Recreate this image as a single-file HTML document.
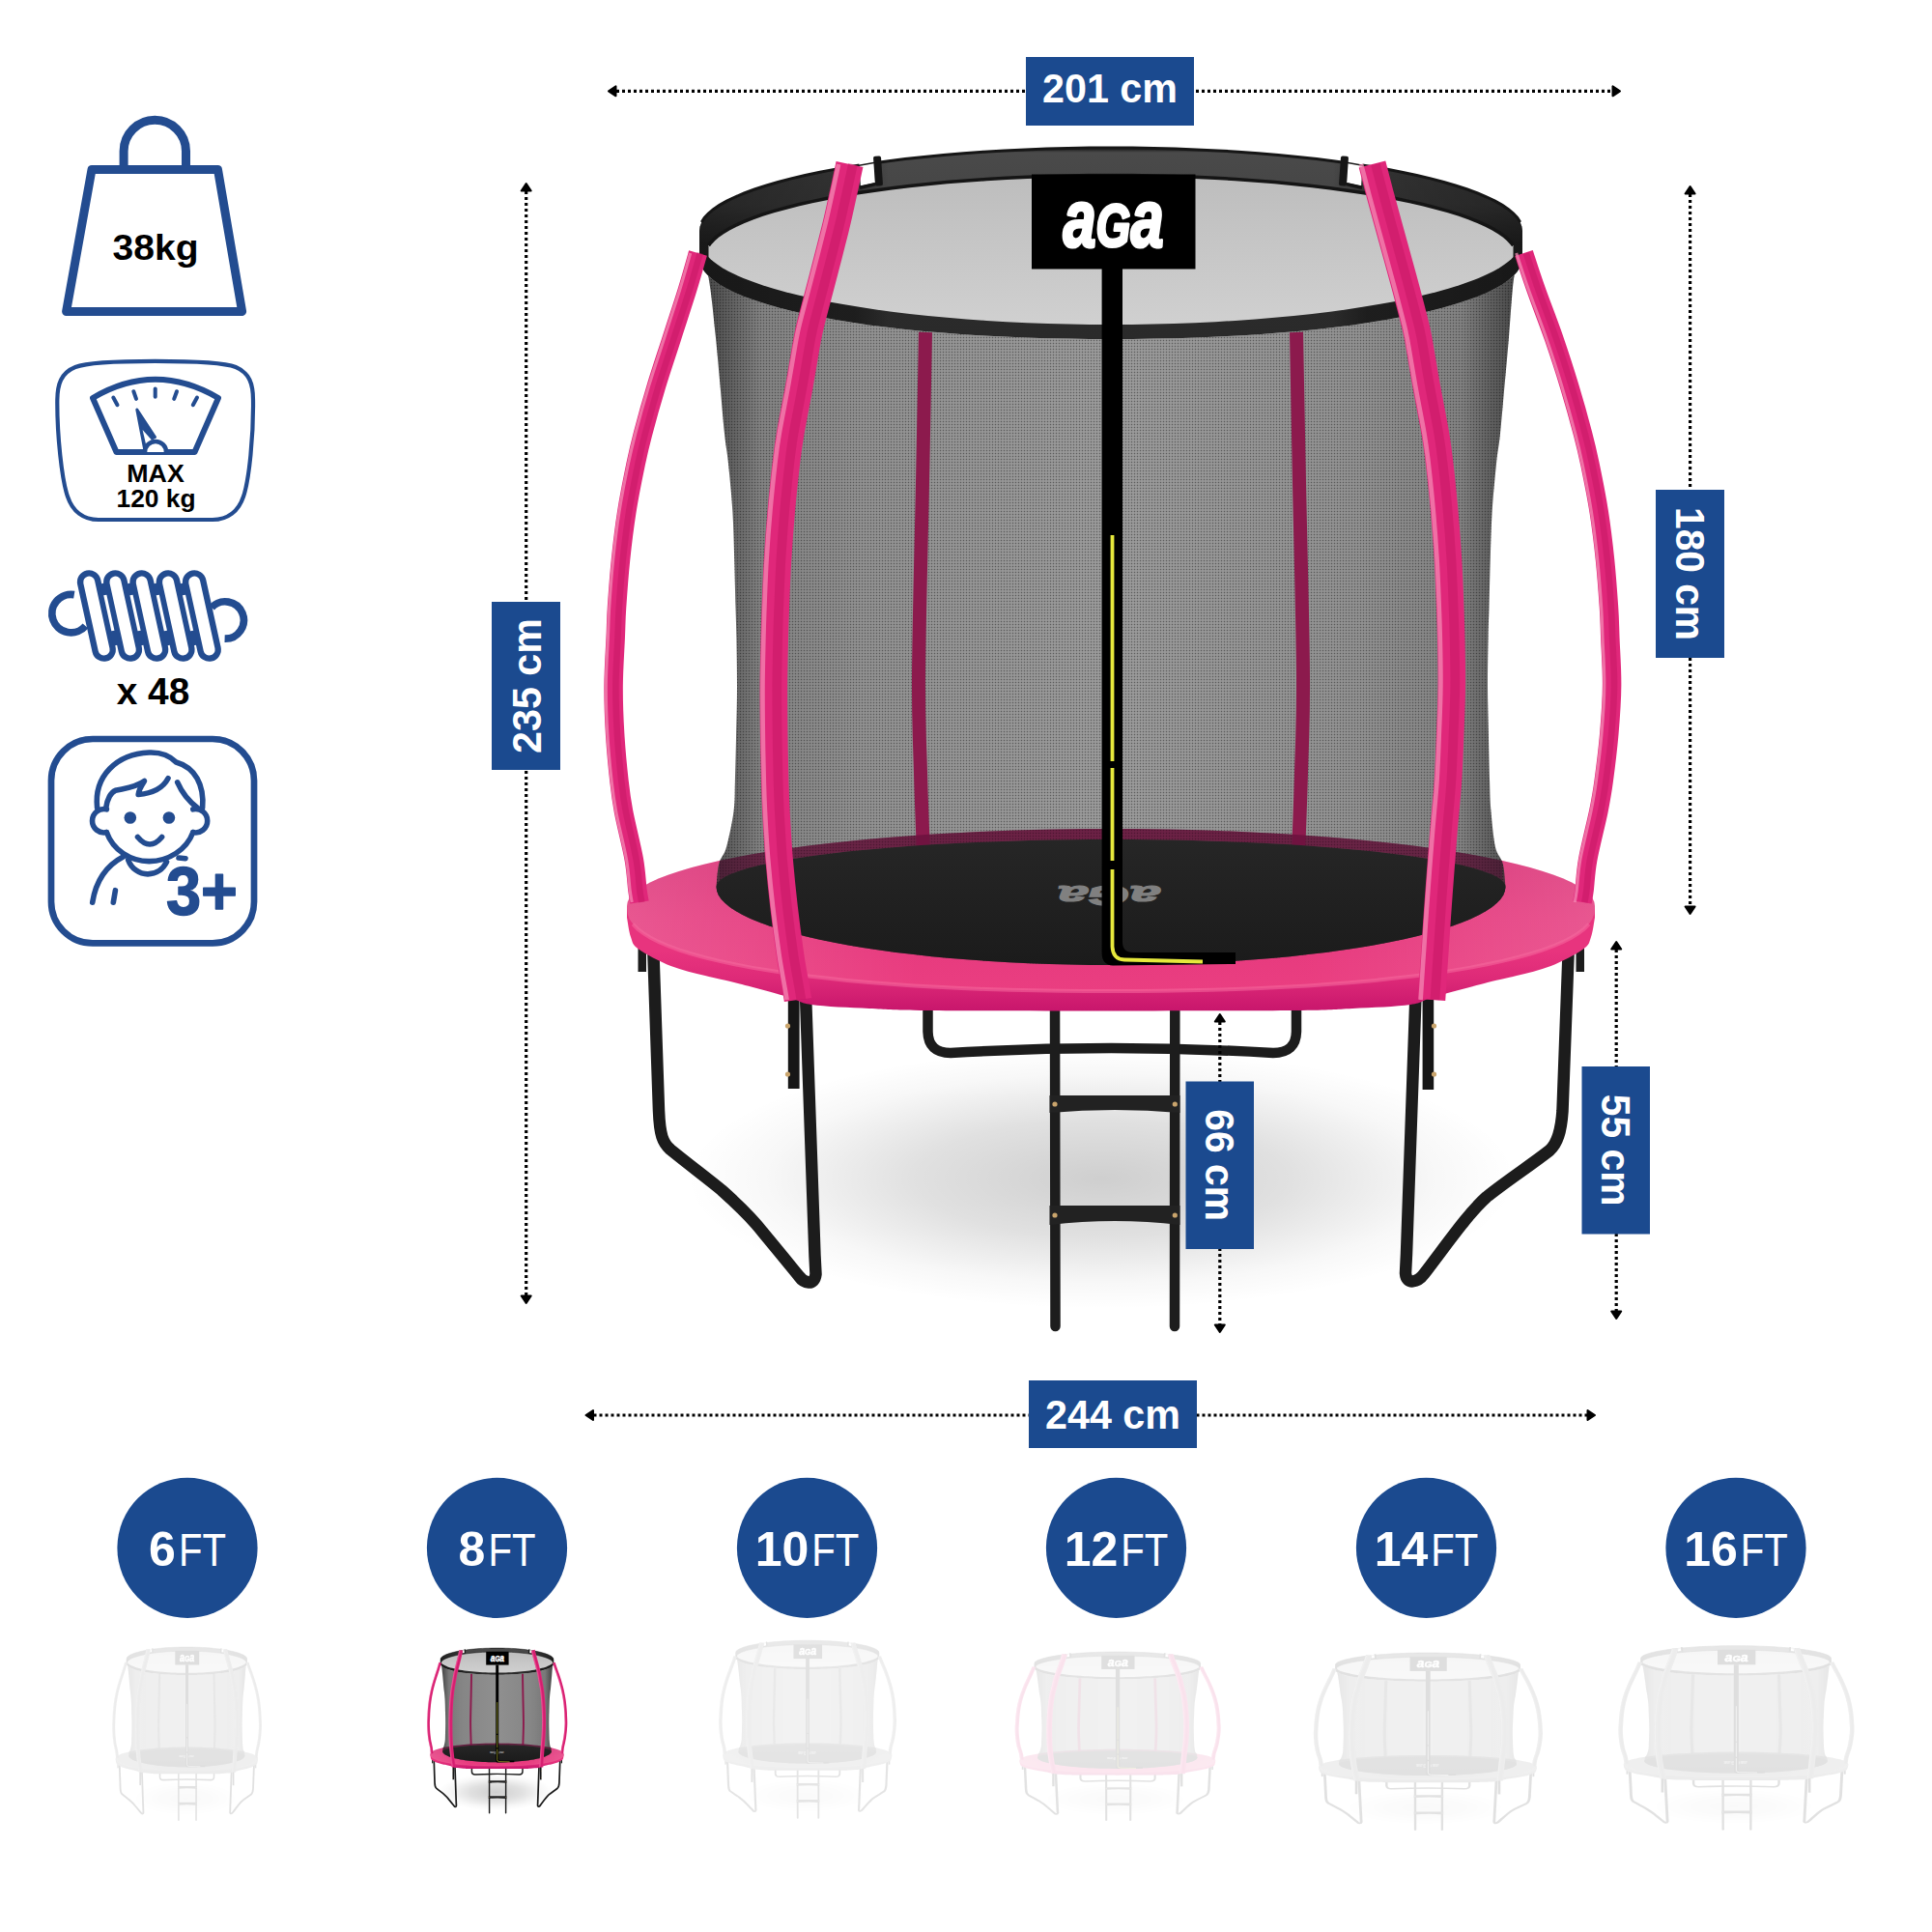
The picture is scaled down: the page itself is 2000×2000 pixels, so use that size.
<!DOCTYPE html>
<html lang="en"><head><meta charset="utf-8"><title>Trampoline 8FT dimensions</title>
<style>
html,body{margin:0;padding:0;background:#fff;}
body{width:2000px;height:2000px;overflow:hidden;}
svg{display:block;font-family:"Liberation Sans", sans-serif;}
</style></head><body>
<svg width="2000" height="2000" viewBox="0 0 2000 2000">
<defs>
<radialGradient id="gShadow" cx="0.5" cy="0.5" r="0.5"><stop offset="0" stop-color="#000" stop-opacity="0.19"/><stop offset="0.45" stop-color="#000" stop-opacity="0.12"/><stop offset="0.8" stop-color="#000" stop-opacity="0.03"/><stop offset="1" stop-color="#000" stop-opacity="0"/></radialGradient>
<linearGradient id="gNet" gradientUnits="userSpaceOnUse" x1="724" y1="0" x2="1576" y2="0"><stop offset="0" stop-color="#2b2b2b" stop-opacity="0.9"/><stop offset="0.045" stop-color="#333" stop-opacity="0.74"/><stop offset="0.075" stop-color="#383838" stop-opacity="0.62"/><stop offset="0.2" stop-color="#3a3a3a" stop-opacity="0.55"/><stop offset="0.5" stop-color="#3a3a3a" stop-opacity="0.5"/><stop offset="0.8" stop-color="#3a3a3a" stop-opacity="0.55"/><stop offset="0.925" stop-color="#383838" stop-opacity="0.62"/><stop offset="0.955" stop-color="#333" stop-opacity="0.74"/><stop offset="1" stop-color="#2b2b2b" stop-opacity="0.9"/></linearGradient>
<linearGradient id="gOpen" x1="0" y1="0" x2="0" y2="1"><stop offset="0" stop-color="#bdbdbd"/><stop offset="1" stop-color="#d0d0d0"/></linearGradient>
<linearGradient id="gRing" gradientUnits="userSpaceOnUse" x1="0" y1="153" x2="0" y2="351"><stop offset="0" stop-color="#141414"/><stop offset="0.025" stop-color="#4a4a4a"/><stop offset="0.30" stop-color="#444"/><stop offset="0.5" stop-color="#2c2c2c"/><stop offset="1" stop-color="#2a2a2a"/></linearGradient>
<linearGradient id="gPadLight" gradientUnits="userSpaceOnUse" x1="649" y1="0" x2="1651" y2="0"><stop offset="0" stop-color="#fff" stop-opacity="0.17"/><stop offset="0.3" stop-color="#fff" stop-opacity="0.02"/><stop offset="0.7" stop-color="#fff" stop-opacity="0.02"/><stop offset="1" stop-color="#fff" stop-opacity="0.17"/></linearGradient>
<linearGradient id="gRingSide" gradientUnits="userSpaceOnUse" x1="724" y1="0" x2="1576" y2="0"><stop offset="0" stop-color="#000" stop-opacity="0.45"/><stop offset="0.19" stop-color="#000" stop-opacity="0.3"/><stop offset="0.23" stop-color="#000" stop-opacity="0"/><stop offset="0.77" stop-color="#000" stop-opacity="0"/><stop offset="0.81" stop-color="#000" stop-opacity="0.3"/><stop offset="1" stop-color="#000" stop-opacity="0.45"/></linearGradient>
<linearGradient id="gMat" x1="0" y1="0" x2="0" y2="1"><stop offset="0" stop-color="#262626"/><stop offset="1" stop-color="#1b1b1b"/></linearGradient>
<linearGradient id="gPadTop" gradientUnits="userSpaceOnUse" x1="0" y1="858" x2="0" y2="1026"><stop offset="0" stop-color="#d42a70"/><stop offset="0.55" stop-color="#e4347a"/><stop offset="1" stop-color="#ea3a7e"/></linearGradient>
<linearGradient id="gPadSide" gradientUnits="userSpaceOnUse" x1="0" y1="985" x2="0" y2="1046"><stop offset="0" stop-color="#e8347e"/><stop offset="0.45" stop-color="#de2a78"/><stop offset="1" stop-color="#c8166c"/></linearGradient>
<pattern id="pMesh" width="3" height="3" patternUnits="userSpaceOnUse"><rect x="0.8" y="0.8" width="1.4" height="1.4" fill="#000" fill-opacity="0.4"/></pattern>
<g id="tramp">
<ellipse cx="1140" cy="1220" rx="430" ry="135" fill="url(#gShadow)"/>
<path d="M960.5,1030 L960.5,1068 Q961,1090 984,1090 Q1150,1080 1318,1090 Q1341.5,1090 1342,1068 L1342,1030" fill="none" stroke="#1c1c1c" stroke-width="10.5"/>
<g stroke="#1d1d1d" stroke-width="10.5" stroke-linecap="round"><path d="M1092,1035 L1092.5,1373"/><path d="M1216.3,1035 L1216,1373"/></g>
<path d="M1086.5,1134 L1221.5,1134 L1221.5,1152 Q1154,1146 1086.5,1152 Z" fill="#222"/><path d="M1086.5,1248 L1221.5,1248 L1221.5,1268 Q1154,1260 1086.5,1268 Z" fill="#222"/>
<path d="M676,975 L682,1150 C683,1175 686,1183 694,1190 C715,1207 735,1222 747,1232 C765,1248 780,1263 790,1276 C805,1294 818,1310 827,1321 C832,1328 843,1332 844.5,1319 L843.5,1300 L834,1030" fill="none" stroke="#1c1c1c" stroke-width="12.5" stroke-linejoin="round"/>
<path d="M1624,975 L1617.5,1150 C1616,1172 1612,1184 1604,1191 C1585,1206 1560,1222 1539,1239 C1520,1256 1500,1285 1474,1319 C1468,1327 1456,1331 1455,1318 L1456,1298 L1465.5,1030" fill="none" stroke="#1c1c1c" stroke-width="12.5" stroke-linejoin="round"/>
<rect x="660.5" y="968" width="8.5" height="38" fill="#1c1c1c"/><rect x="1631.5" y="968" width="8.5" height="38" fill="#1c1c1c"/>
<rect x="815.8" y="1015" width="11.8" height="112" fill="#161616"/><rect x="1472.6" y="1015" width="11.6" height="113" fill="#161616"/>
<circle cx="1092" cy="1143" r="2.6" fill="#c9a46c"/><circle cx="1216.3" cy="1143" r="2.6" fill="#c9a46c"/><circle cx="1092" cy="1258" r="2.6" fill="#c9a46c"/><circle cx="1216.3" cy="1258" r="2.6" fill="#c9a46c"/><circle cx="815.5" cy="1062" r="2.6" fill="#c9a46c"/><circle cx="815.5" cy="1112" r="2.6" fill="#c9a46c"/><circle cx="1484.5" cy="1062" r="2.6" fill="#c9a46c"/><circle cx="1484.5" cy="1112" r="2.6" fill="#c9a46c"/>
<path d="M649.0,950.0 C649.7,953.3 651.0,964.6 653.0,970.0 C655.0,975.4 654.1,977.5 661.0,982.5 C667.9,987.5 683.0,995.4 694.5,1000.0 C706.0,1004.6 719.1,1007.2 730.0,1010.0 C740.9,1012.8 745.7,1013.3 760.0,1017.0 C774.3,1020.7 802.7,1028.2 816.0,1032.0 C829.3,1035.8 826.0,1038.0 840.0,1040.0 C854.0,1042.0 880.0,1043.0 900.0,1044.0 C920.0,1045.0 918.3,1045.6 960.0,1046.0 C1001.7,1046.4 1086.7,1046.5 1150.0,1046.5 C1213.3,1046.5 1298.3,1046.4 1340.0,1046.0 C1381.7,1045.6 1380.0,1045.0 1400.0,1044.0 C1420.0,1043.0 1446.0,1042.0 1460.0,1040.0 C1474.0,1038.0 1470.7,1035.8 1484.0,1032.0 C1497.3,1028.2 1525.7,1020.7 1540.0,1017.0 C1554.3,1013.3 1559.1,1012.8 1570.0,1010.0 C1580.9,1007.2 1594.0,1004.6 1605.5,1000.0 C1617.0,995.4 1632.1,987.5 1639.0,982.5 C1645.9,977.5 1645.0,975.4 1647.0,970.0 C1649.0,964.6 1650.3,953.3 1651.0,950.0 L1651,938 L649,938 Z" fill="url(#gPadSide)"/>
<path d="M649.0,938.0 L649.7,933.8 L651.7,929.6 L655.2,925.5 L659.9,921.4 L666.1,917.3 L673.5,913.3 L682.3,909.3 L692.3,905.5 L703.6,901.7 L716.1,898.0 L729.8,894.4 L744.7,891.0 L760.6,887.7 L777.7,884.5 L795.7,881.4 L814.8,878.5 L834.7,875.8 L855.5,873.3 L877.1,870.9 L899.5,868.7 L922.6,866.7 L946.2,864.9 L970.5,863.3 L995.2,861.9 L1020.3,860.7 L1045.8,859.7 L1071.6,859.0 L1097.6,858.4 L1123.8,858.1 L1150.0,858.0 L1176.2,858.1 L1202.4,858.4 L1228.4,859.0 L1254.2,859.7 L1279.7,860.7 L1304.8,861.9 L1329.5,863.3 L1353.8,864.9 L1377.4,866.7 L1400.5,868.7 L1422.9,870.9 L1444.5,873.3 L1465.3,875.8 L1485.2,878.5 L1504.3,881.4 L1522.3,884.5 L1539.4,887.7 L1555.3,891.0 L1570.2,894.4 L1583.9,898.0 L1596.4,901.7 L1607.7,905.5 L1617.7,909.3 L1626.5,913.3 L1633.9,917.3 L1640.1,921.4 L1644.8,925.5 L1648.3,929.6 L1650.3,933.8 L1651.0,938.0 L1651.0,940.0 L1650.3,946.1 L1648.3,951.5 L1644.8,956.6 L1640.1,961.5 L1633.9,966.2 L1626.5,970.8 L1617.7,975.2 L1607.7,979.5 L1596.4,983.6 L1583.9,987.5 L1570.2,991.3 L1555.3,994.9 L1539.4,998.3 L1522.3,1001.6 L1504.3,1004.6 L1485.2,1007.5 L1465.3,1010.2 L1444.5,1012.6 L1422.9,1014.9 L1400.5,1016.9 L1377.4,1018.8 L1353.8,1020.4 L1329.5,1021.8 L1304.8,1023.0 L1279.7,1024.0 L1254.2,1024.8 L1228.4,1025.3 L1202.4,1025.7 L1176.2,1025.9 L1150.0,1026.0 L1123.8,1025.9 L1097.6,1025.7 L1071.6,1025.3 L1045.8,1024.8 L1020.3,1024.0 L995.2,1023.0 L970.5,1021.8 L946.2,1020.4 L922.6,1018.8 L899.5,1016.9 L877.1,1014.9 L855.5,1012.6 L834.7,1010.2 L814.8,1007.5 L795.7,1004.6 L777.7,1001.6 L760.6,998.3 L744.7,994.9 L729.8,991.3 L716.1,987.5 L703.6,983.6 L692.3,979.5 L682.3,975.2 L673.5,970.8 L666.1,966.2 L659.9,961.5 L655.2,956.6 L651.7,951.5 L649.7,946.1 L649.0,940.0 Z" fill="url(#gPadTop)"/>
<path d="M649.0,938.0 L649.7,933.8 L651.7,929.6 L655.2,925.5 L659.9,921.4 L666.1,917.3 L673.5,913.3 L682.3,909.3 L692.3,905.5 L703.6,901.7 L716.1,898.0 L729.8,894.4 L744.7,891.0 L760.6,887.7 L777.7,884.5 L795.7,881.4 L814.8,878.5 L834.7,875.8 L855.5,873.3 L877.1,870.9 L899.5,868.7 L922.6,866.7 L946.2,864.9 L970.5,863.3 L995.2,861.9 L1020.3,860.7 L1045.8,859.7 L1071.6,859.0 L1097.6,858.4 L1123.8,858.1 L1150.0,858.0 L1176.2,858.1 L1202.4,858.4 L1228.4,859.0 L1254.2,859.7 L1279.7,860.7 L1304.8,861.9 L1329.5,863.3 L1353.8,864.9 L1377.4,866.7 L1400.5,868.7 L1422.9,870.9 L1444.5,873.3 L1465.3,875.8 L1485.2,878.5 L1504.3,881.4 L1522.3,884.5 L1539.4,887.7 L1555.3,891.0 L1570.2,894.4 L1583.9,898.0 L1596.4,901.7 L1607.7,905.5 L1617.7,909.3 L1626.5,913.3 L1633.9,917.3 L1640.1,921.4 L1644.8,925.5 L1648.3,929.6 L1650.3,933.8 L1651.0,938.0 L1651.0,940.0 L1650.3,946.1 L1648.3,951.5 L1644.8,956.6 L1640.1,961.5 L1633.9,966.2 L1626.5,970.8 L1617.7,975.2 L1607.7,979.5 L1596.4,983.6 L1583.9,987.5 L1570.2,991.3 L1555.3,994.9 L1539.4,998.3 L1522.3,1001.6 L1504.3,1004.6 L1485.2,1007.5 L1465.3,1010.2 L1444.5,1012.6 L1422.9,1014.9 L1400.5,1016.9 L1377.4,1018.8 L1353.8,1020.4 L1329.5,1021.8 L1304.8,1023.0 L1279.7,1024.0 L1254.2,1024.8 L1228.4,1025.3 L1202.4,1025.7 L1176.2,1025.9 L1150.0,1026.0 L1123.8,1025.9 L1097.6,1025.7 L1071.6,1025.3 L1045.8,1024.8 L1020.3,1024.0 L995.2,1023.0 L970.5,1021.8 L946.2,1020.4 L922.6,1018.8 L899.5,1016.9 L877.1,1014.9 L855.5,1012.6 L834.7,1010.2 L814.8,1007.5 L795.7,1004.6 L777.7,1001.6 L760.6,998.3 L744.7,994.9 L729.8,991.3 L716.1,987.5 L703.6,983.6 L692.3,979.5 L682.3,975.2 L673.5,970.8 L666.1,966.2 L659.9,961.5 L655.2,956.6 L651.7,951.5 L649.7,946.1 L649.0,940.0 Z" fill="url(#gPadLight)"/>
<path d="M1644.8,956.6 L1640.1,961.5 L1633.9,966.2 L1626.5,970.8 L1617.7,975.2 L1607.7,979.5 L1596.4,983.6 L1583.9,987.5 L1570.2,991.3 L1555.3,994.9 L1539.4,998.3 L1522.3,1001.6 L1504.3,1004.6 L1485.2,1007.5 L1465.3,1010.2 L1444.5,1012.6 L1422.9,1014.9 L1400.5,1016.9 L1377.4,1018.8 L1353.8,1020.4 L1329.5,1021.8 L1304.8,1023.0 L1279.7,1024.0 L1254.2,1024.8 L1228.4,1025.3 L1202.4,1025.7 L1176.2,1025.9 L1150.0,1026.0 L1123.8,1025.9 L1097.6,1025.7 L1071.6,1025.3 L1045.8,1024.8 L1020.3,1024.0 L995.2,1023.0 L970.5,1021.8 L946.2,1020.4 L922.6,1018.8 L899.5,1016.9 L877.1,1014.9 L855.5,1012.6 L834.7,1010.2 L814.8,1007.5 L795.7,1004.6 L777.7,1001.6 L760.6,998.3 L744.7,994.9 L729.8,991.3 L716.1,987.5 L703.6,983.6 L692.3,979.5 L682.3,975.2 L673.5,970.8 L666.1,966.2 L659.9,961.5 L655.2,956.6" fill="none" stroke="#f6699f" stroke-width="4" stroke-opacity="0.55"/>
<path d="M725.0,262.0 C726.0,264.3 729.2,269.7 731.0,276.0 C732.8,282.3 733.8,287.7 735.5,300.0 C737.2,312.3 739.3,333.5 741.0,350.0 C742.7,366.5 744.0,382.5 745.5,399.0 C747.0,415.5 748.6,435.5 750.0,449.0 C751.4,462.5 752.6,466.5 754.0,480.0 C755.4,493.5 757.4,513.5 758.4,530.0 C759.4,546.5 759.7,562.5 760.2,579.0 C760.7,595.5 761.1,615.5 761.5,629.0 C761.9,642.5 762.1,646.5 762.4,660.0 C762.6,673.5 763.0,693.5 763.0,710.0 C763.0,726.5 762.5,742.5 762.1,759.0 C761.8,775.5 761.3,795.5 760.9,809.0 C760.5,822.5 761.0,828.7 759.5,840.0 C758.0,851.3 754.5,868.0 752.0,877.0 C749.5,886.0 746.0,887.2 744.3,894.0 C742.5,900.8 742.0,914.0 741.5,918.0 L741.5,918.0 L742.1,922.2 L743.7,926.5 L746.5,930.7 L750.4,934.8 L755.4,939.0 L761.5,943.0 L768.6,947.0 L776.8,950.9 L786.0,954.8 L796.2,958.5 L807.4,962.1 L819.5,965.6 L832.5,969.0 L846.4,972.2 L861.1,975.3 L876.7,978.2 L892.9,980.9 L909.9,983.5 L927.5,985.9 L945.8,988.1 L964.5,990.2 L983.8,992.0 L1003.6,993.6 L1023.8,995.0 L1044.3,996.2 L1065.1,997.2 L1086.1,998.0 L1107.3,998.6 L1128.6,998.9 L1150.0,999.0 L1171.4,998.9 L1192.7,998.6 L1213.9,998.0 L1234.9,997.2 L1255.7,996.2 L1276.2,995.0 L1296.4,993.6 L1316.2,992.0 L1335.5,990.2 L1354.2,988.1 L1372.5,985.9 L1390.1,983.5 L1407.1,980.9 L1423.3,978.2 L1438.9,975.3 L1453.6,972.2 L1467.5,969.0 L1480.5,965.6 L1492.6,962.1 L1503.8,958.5 L1514.0,954.8 L1523.2,950.9 L1531.4,947.0 L1538.5,943.0 L1544.6,939.0 L1549.6,934.8 L1553.5,930.7 L1556.3,926.5 L1557.9,922.2 L1558.5,918.0 L1558.5,918 C1558.0,914.0 1557.5,900.8 1555.7,894.0 C1554.0,887.2 1550.0,886.0 1548.0,877.0 C1546.0,868.0 1544.5,851.3 1543.5,840.0 C1542.5,828.7 1542.5,822.5 1542.1,809.0 C1541.7,795.5 1541.2,775.5 1540.9,759.0 C1540.6,742.5 1540.0,726.5 1540.0,710.0 C1540.0,693.5 1540.3,673.5 1540.6,660.0 C1540.8,646.5 1541.1,642.5 1541.5,629.0 C1541.9,615.5 1542.3,595.5 1542.8,579.0 C1543.3,562.5 1543.6,546.5 1544.6,530.0 C1545.6,513.5 1547.6,493.5 1549.0,480.0 C1550.4,466.5 1551.6,462.5 1553.0,449.0 C1554.4,435.5 1556.0,415.5 1557.5,399.0 C1559.0,382.5 1560.6,366.5 1561.9,350.0 C1563.3,333.5 1564.5,312.3 1565.8,300.0 C1567.0,287.7 1567.9,282.3 1569.5,276.0 C1571.0,269.7 1574.1,264.3 1575.0,262.0 L1575.0,272.8 L1574.4,274.4 L1572.7,278.0 L1569.8,282.1 L1565.7,286.4 L1560.5,290.7 L1554.2,295.0 L1546.8,299.2 L1538.3,303.3 L1528.7,307.2 L1518.1,311.1 L1506.4,314.8 L1493.8,318.4 L1480.3,321.9 L1465.8,325.1 L1450.5,328.2 L1434.4,331.1 L1417.5,333.9 L1399.8,336.4 L1381.5,338.8 L1362.5,341.0 L1342.9,342.9 L1322.9,344.6 L1302.3,346.2 L1281.3,347.5 L1260.0,348.6 L1238.4,349.5 L1216.5,350.2 L1194.4,350.6 L1172.2,350.9 L1150.0,351.0 L1127.8,350.9 L1105.6,350.6 L1083.5,350.2 L1061.6,349.5 L1040.0,348.6 L1018.7,347.5 L997.7,346.2 L977.1,344.6 L957.1,342.9 L937.5,341.0 L918.5,338.8 L900.2,336.4 L882.5,333.9 L865.6,331.1 L849.5,328.2 L834.2,325.1 L819.7,321.9 L806.2,318.4 L793.6,314.8 L781.9,311.1 L771.3,307.2 L761.7,303.3 L753.2,299.2 L745.8,295.0 L739.5,290.7 L734.3,286.4 L730.2,282.1 L727.3,278.0 L725.6,274.4 L725.0,272.8 Z" fill="url(#gNet)"/>
<path d="M725.0,262.0 C726.0,264.3 729.2,269.7 731.0,276.0 C732.8,282.3 733.8,287.7 735.5,300.0 C737.2,312.3 739.3,333.5 741.0,350.0 C742.7,366.5 744.0,382.5 745.5,399.0 C747.0,415.5 748.6,435.5 750.0,449.0 C751.4,462.5 752.6,466.5 754.0,480.0 C755.4,493.5 757.4,513.5 758.4,530.0 C759.4,546.5 759.7,562.5 760.2,579.0 C760.7,595.5 761.1,615.5 761.5,629.0 C761.9,642.5 762.1,646.5 762.4,660.0 C762.6,673.5 763.0,693.5 763.0,710.0 C763.0,726.5 762.5,742.5 762.1,759.0 C761.8,775.5 761.3,795.5 760.9,809.0 C760.5,822.5 761.0,828.7 759.5,840.0 C758.0,851.3 754.5,868.0 752.0,877.0 C749.5,886.0 746.0,887.2 744.3,894.0 C742.5,900.8 742.0,914.0 741.5,918.0 L741.5,918.0 L742.1,922.2 L743.7,926.5 L746.5,930.7 L750.4,934.8 L755.4,939.0 L761.5,943.0 L768.6,947.0 L776.8,950.9 L786.0,954.8 L796.2,958.5 L807.4,962.1 L819.5,965.6 L832.5,969.0 L846.4,972.2 L861.1,975.3 L876.7,978.2 L892.9,980.9 L909.9,983.5 L927.5,985.9 L945.8,988.1 L964.5,990.2 L983.8,992.0 L1003.6,993.6 L1023.8,995.0 L1044.3,996.2 L1065.1,997.2 L1086.1,998.0 L1107.3,998.6 L1128.6,998.9 L1150.0,999.0 L1171.4,998.9 L1192.7,998.6 L1213.9,998.0 L1234.9,997.2 L1255.7,996.2 L1276.2,995.0 L1296.4,993.6 L1316.2,992.0 L1335.5,990.2 L1354.2,988.1 L1372.5,985.9 L1390.1,983.5 L1407.1,980.9 L1423.3,978.2 L1438.9,975.3 L1453.6,972.2 L1467.5,969.0 L1480.5,965.6 L1492.6,962.1 L1503.8,958.5 L1514.0,954.8 L1523.2,950.9 L1531.4,947.0 L1538.5,943.0 L1544.6,939.0 L1549.6,934.8 L1553.5,930.7 L1556.3,926.5 L1557.9,922.2 L1558.5,918.0 L1558.5,918 C1558.0,914.0 1557.5,900.8 1555.7,894.0 C1554.0,887.2 1550.0,886.0 1548.0,877.0 C1546.0,868.0 1544.5,851.3 1543.5,840.0 C1542.5,828.7 1542.5,822.5 1542.1,809.0 C1541.7,795.5 1541.2,775.5 1540.9,759.0 C1540.6,742.5 1540.0,726.5 1540.0,710.0 C1540.0,693.5 1540.3,673.5 1540.6,660.0 C1540.8,646.5 1541.1,642.5 1541.5,629.0 C1541.9,615.5 1542.3,595.5 1542.8,579.0 C1543.3,562.5 1543.6,546.5 1544.6,530.0 C1545.6,513.5 1547.6,493.5 1549.0,480.0 C1550.4,466.5 1551.6,462.5 1553.0,449.0 C1554.4,435.5 1556.0,415.5 1557.5,399.0 C1559.0,382.5 1560.6,366.5 1561.9,350.0 C1563.3,333.5 1564.5,312.3 1565.8,300.0 C1567.0,287.7 1567.9,282.3 1569.5,276.0 C1571.0,269.7 1574.1,264.3 1575.0,262.0 L1575.0,272.8 L1574.4,274.4 L1572.7,278.0 L1569.8,282.1 L1565.7,286.4 L1560.5,290.7 L1554.2,295.0 L1546.8,299.2 L1538.3,303.3 L1528.7,307.2 L1518.1,311.1 L1506.4,314.8 L1493.8,318.4 L1480.3,321.9 L1465.8,325.1 L1450.5,328.2 L1434.4,331.1 L1417.5,333.9 L1399.8,336.4 L1381.5,338.8 L1362.5,341.0 L1342.9,342.9 L1322.9,344.6 L1302.3,346.2 L1281.3,347.5 L1260.0,348.6 L1238.4,349.5 L1216.5,350.2 L1194.4,350.6 L1172.2,350.9 L1150.0,351.0 L1127.8,350.9 L1105.6,350.6 L1083.5,350.2 L1061.6,349.5 L1040.0,348.6 L1018.7,347.5 L997.7,346.2 L977.1,344.6 L957.1,342.9 L937.5,341.0 L918.5,338.8 L900.2,336.4 L882.5,333.9 L865.6,331.1 L849.5,328.2 L834.2,325.1 L819.7,321.9 L806.2,318.4 L793.6,314.8 L781.9,311.1 L771.3,307.2 L761.7,303.3 L753.2,299.2 L745.8,295.0 L739.5,290.7 L734.3,286.4 L730.2,282.1 L727.3,278.0 L725.6,274.4 L725.0,272.8 Z" fill="url(#pMesh)"/>
<path d="M958.0,344.0 C957.5,370.0 956.2,440.7 955.0,500.0 C953.8,559.3 951.3,650.0 951.0,700.0 C950.7,750.0 952.2,769.2 953.0,800.0 C953.8,830.8 955.5,870.8 956.0,885.0" fill="none" stroke="#8c1a4d" stroke-width="14"/>
<path d="M1342.0,344.0 C1342.5,370.0 1343.8,440.7 1345.0,500.0 C1346.2,559.3 1348.7,650.0 1349.0,700.0 C1349.3,750.0 1347.8,769.2 1347.0,800.0 C1346.2,830.8 1344.5,870.8 1344.0,885.0" fill="none" stroke="#8c1a4d" stroke-width="14"/>
<path d="M745.0,890.9 L745.6,890.8 L747.2,890.4 L750.0,889.8 L753.9,889.0 L758.8,888.0 L764.8,886.8 L771.9,885.5 L780.0,884.1 L789.1,882.5 L799.3,880.9 L810.3,879.2 L822.3,877.5 L835.3,875.8 L849.0,874.0 L863.6,872.4 L879.0,870.7 L895.1,869.1 L911.9,867.6 L929.4,866.2 L947.5,864.8 L966.1,863.6 L985.3,862.4 L1004.9,861.4 L1024.8,860.5 L1045.2,859.8 L1065.8,859.1 L1086.6,858.6 L1107.7,858.3 L1128.8,858.1 L1150.0,858.0 L1171.2,858.1 L1192.3,858.3 L1213.4,858.6 L1234.2,859.1 L1254.8,859.8 L1275.2,860.5 L1295.1,861.4 L1314.7,862.4 L1333.9,863.6 L1352.5,864.8 L1370.6,866.2 L1388.1,867.6 L1404.9,869.1 L1421.0,870.7 L1436.4,872.4 L1451.0,874.0 L1464.7,875.8 L1477.7,877.5 L1489.7,879.2 L1500.7,880.9 L1510.9,882.5 L1520.0,884.1 L1528.1,885.5 L1535.2,886.8 L1541.2,888.0 L1546.1,889.0 L1550.0,889.8 L1552.8,890.4 L1554.4,890.8 L1555.0,890.9 L1555.0,911.6 L1554.4,911.1 L1552.8,909.8 L1550.0,908.1 L1546.1,906.0 L1541.2,903.9 L1535.2,901.7 L1528.1,899.5 L1520.0,897.2 L1510.9,895.0 L1500.7,892.9 L1489.7,890.8 L1477.7,888.7 L1464.7,886.8 L1451.0,884.9 L1436.4,883.1 L1421.0,881.3 L1404.9,879.7 L1388.1,878.2 L1370.6,876.8 L1352.5,875.4 L1333.9,874.2 L1314.7,873.2 L1295.1,872.2 L1275.2,871.4 L1254.8,870.6 L1234.2,870.1 L1213.4,869.6 L1192.3,869.3 L1171.2,869.1 L1150.0,869.0 L1128.8,869.1 L1107.7,869.3 L1086.6,869.6 L1065.8,870.1 L1045.2,870.6 L1024.8,871.4 L1004.9,872.2 L985.3,873.2 L966.1,874.2 L947.5,875.4 L929.4,876.8 L911.9,878.2 L895.1,879.7 L879.0,881.3 L863.6,883.1 L849.0,884.9 L835.3,886.8 L822.3,888.7 L810.3,890.8 L799.3,892.9 L789.1,895.0 L780.0,897.2 L771.9,899.5 L764.8,901.7 L758.8,903.9 L753.9,906.0 L750.0,908.1 L747.2,909.8 L745.6,911.1 L745.0,911.6 Z" fill="#4a0a30" fill-opacity="0.42"/>
<path d="M741.5,918.0 L742.1,922.2 L743.7,926.5 L746.5,930.7 L750.4,934.8 L755.4,939.0 L761.5,943.0 L768.6,947.0 L776.8,950.9 L786.0,954.8 L796.2,958.5 L807.4,962.1 L819.5,965.6 L832.5,969.0 L846.4,972.2 L861.1,975.3 L876.7,978.2 L892.9,980.9 L909.9,983.5 L927.5,985.9 L945.8,988.1 L964.5,990.2 L983.8,992.0 L1003.6,993.6 L1023.8,995.0 L1044.3,996.2 L1065.1,997.2 L1086.1,998.0 L1107.3,998.6 L1128.6,998.9 L1150.0,999.0 L1171.4,998.9 L1192.7,998.6 L1213.9,998.0 L1234.9,997.2 L1255.7,996.2 L1276.2,995.0 L1296.4,993.6 L1316.2,992.0 L1335.5,990.2 L1354.2,988.1 L1372.5,985.9 L1390.1,983.5 L1407.1,980.9 L1423.3,978.2 L1438.9,975.3 L1453.6,972.2 L1467.5,969.0 L1480.5,965.6 L1492.6,962.1 L1503.8,958.5 L1514.0,954.8 L1523.2,950.9 L1531.4,947.0 L1538.5,943.0 L1544.6,939.0 L1549.6,934.8 L1553.5,930.7 L1556.3,926.5 L1557.9,922.2 L1558.5,918.0 L1558.5,918.0 L1557.9,915.4 L1556.3,912.9 L1553.5,910.3 L1549.6,907.8 L1544.6,905.3 L1538.5,902.9 L1531.4,900.4 L1523.2,898.1 L1514.0,895.8 L1503.8,893.5 L1492.6,891.3 L1480.5,889.2 L1467.5,887.2 L1453.6,885.2 L1438.9,883.4 L1423.3,881.6 L1407.1,879.9 L1390.1,878.4 L1372.5,876.9 L1354.2,875.6 L1335.5,874.3 L1316.2,873.2 L1296.4,872.3 L1276.2,871.4 L1255.7,870.7 L1234.9,870.1 L1213.9,869.6 L1192.7,869.3 L1171.4,869.1 L1150.0,869.0 L1128.6,869.1 L1107.3,869.3 L1086.1,869.6 L1065.1,870.1 L1044.3,870.7 L1023.8,871.4 L1003.6,872.3 L983.8,873.2 L964.5,874.3 L945.8,875.6 L927.5,876.9 L909.9,878.4 L892.9,879.9 L876.7,881.6 L861.1,883.4 L846.4,885.2 L832.5,887.2 L819.5,889.2 L807.4,891.3 L796.2,893.5 L786.0,895.8 L776.8,898.1 L768.6,900.4 L761.5,902.9 L755.4,905.3 L750.4,907.8 L746.5,910.3 L743.7,912.9 L742.1,915.4 L741.5,918.0 Z" fill="url(#gMat)"/>
<text transform="translate(1148,917) scale(-1.17,-0.62)" text-anchor="middle" font-size="48" font-weight="700" font-style="italic" fill="#808080" stroke="#808080" stroke-width="2">aGa</text>
<path d="M724.0,239.0 L724.6,234.5 L726.3,230.0 L729.2,225.5 L733.3,221.1 L738.5,216.7 L744.8,212.4 L752.3,208.2 L760.8,204.0 L770.4,200.0 L781.1,196.0 L792.7,192.2 L805.4,188.5 L818.9,184.9 L833.4,181.5 L848.8,178.2 L865.0,175.1 L881.9,172.2 L899.6,169.4 L918.0,166.9 L937.0,164.5 L956.6,162.4 L976.7,160.4 L997.3,158.7 L1018.4,157.2 L1039.7,155.9 L1061.4,154.9 L1083.4,154.1 L1105.5,153.5 L1127.7,153.1 L1150.0,153.0 L1172.3,153.1 L1194.5,153.5 L1216.6,154.1 L1238.6,154.9 L1260.3,155.9 L1281.6,157.2 L1302.7,158.7 L1323.3,160.4 L1343.4,162.4 L1363.0,164.5 L1382.0,166.9 L1400.4,169.4 L1418.1,172.2 L1435.0,175.1 L1451.2,178.2 L1466.6,181.5 L1481.1,184.9 L1494.6,188.5 L1507.3,192.2 L1518.9,196.0 L1529.6,200.0 L1539.2,204.0 L1547.7,208.2 L1555.2,212.4 L1561.5,216.7 L1566.7,221.1 L1570.8,225.5 L1573.7,230.0 L1575.4,234.5 L1576.0,239.0 L1576.0,266.0 L1575.4,271.2 L1573.7,276.1 L1570.8,280.9 L1566.7,285.5 L1561.5,290.0 L1555.2,294.4 L1547.7,298.7 L1539.2,302.9 L1529.6,306.9 L1518.9,310.8 L1507.3,314.6 L1494.6,318.2 L1481.1,321.7 L1466.6,325.0 L1451.2,328.1 L1435.0,331.0 L1418.1,333.8 L1400.4,336.4 L1382.0,338.7 L1363.0,340.9 L1343.4,342.9 L1323.3,344.6 L1302.7,346.2 L1281.6,347.5 L1260.3,348.6 L1238.6,349.5 L1216.6,350.2 L1194.5,350.6 L1172.3,350.9 L1150.0,351.0 L1127.7,350.9 L1105.5,350.6 L1083.4,350.2 L1061.4,349.5 L1039.7,348.6 L1018.4,347.5 L997.3,346.2 L976.7,344.6 L956.6,342.9 L937.0,340.9 L918.0,338.7 L899.6,336.4 L881.9,333.8 L865.0,331.0 L848.8,328.1 L833.4,325.0 L818.9,321.7 L805.4,318.2 L792.7,314.6 L781.1,310.8 L770.4,306.9 L760.8,302.9 L752.3,298.7 L744.8,294.4 L738.5,290.0 L733.3,285.5 L729.2,280.9 L726.3,276.1 L724.6,271.2 L724.0,266.0 Z" fill="url(#gRing)"/>
<path d="M724.0,239.0 L724.6,234.5 L726.3,230.0 L729.2,225.5 L733.3,221.1 L738.5,216.7 L744.8,212.4 L752.3,208.2 L760.8,204.0 L770.4,200.0 L781.1,196.0 L792.7,192.2 L805.4,188.5 L818.9,184.9 L833.4,181.5 L848.8,178.2 L865.0,175.1 L881.9,172.2 L899.6,169.4 L918.0,166.9 L937.0,164.5 L956.6,162.4 L976.7,160.4 L997.3,158.7 L1018.4,157.2 L1039.7,155.9 L1061.4,154.9 L1083.4,154.1 L1105.5,153.5 L1127.7,153.1 L1150.0,153.0 L1172.3,153.1 L1194.5,153.5 L1216.6,154.1 L1238.6,154.9 L1260.3,155.9 L1281.6,157.2 L1302.7,158.7 L1323.3,160.4 L1343.4,162.4 L1363.0,164.5 L1382.0,166.9 L1400.4,169.4 L1418.1,172.2 L1435.0,175.1 L1451.2,178.2 L1466.6,181.5 L1481.1,184.9 L1494.6,188.5 L1507.3,192.2 L1518.9,196.0 L1529.6,200.0 L1539.2,204.0 L1547.7,208.2 L1555.2,212.4 L1561.5,216.7 L1566.7,221.1 L1570.8,225.5 L1573.7,230.0 L1575.4,234.5 L1576.0,239.0 L1576.0,266.0 L1575.4,271.2 L1573.7,276.1 L1570.8,280.9 L1566.7,285.5 L1561.5,290.0 L1555.2,294.4 L1547.7,298.7 L1539.2,302.9 L1529.6,306.9 L1518.9,310.8 L1507.3,314.6 L1494.6,318.2 L1481.1,321.7 L1466.6,325.0 L1451.2,328.1 L1435.0,331.0 L1418.1,333.8 L1400.4,336.4 L1382.0,338.7 L1363.0,340.9 L1343.4,342.9 L1323.3,344.6 L1302.7,346.2 L1281.6,347.5 L1260.3,348.6 L1238.6,349.5 L1216.6,350.2 L1194.5,350.6 L1172.3,350.9 L1150.0,351.0 L1127.7,350.9 L1105.5,350.6 L1083.4,350.2 L1061.4,349.5 L1039.7,348.6 L1018.4,347.5 L997.3,346.2 L976.7,344.6 L956.6,342.9 L937.0,340.9 L918.0,338.7 L899.6,336.4 L881.9,333.8 L865.0,331.0 L848.8,328.1 L833.4,325.0 L818.9,321.7 L805.4,318.2 L792.7,314.6 L781.1,310.8 L770.4,306.9 L760.8,302.9 L752.3,298.7 L744.8,294.4 L738.5,290.0 L733.3,285.5 L729.2,280.9 L726.3,276.1 L724.6,271.2 L724.0,266.0 Z" fill="url(#gRingSide)"/>
<path d="M733.5,254.2 L734.1,253.4 L735.8,251.2 L738.6,248.2 L742.6,244.7 L747.7,241.0 L753.9,237.2 L761.2,233.4 L769.5,229.6 L778.9,225.9 L789.3,222.2 L800.7,218.6 L813.0,215.2 L826.3,211.8 L840.5,208.6 L855.5,205.5 L871.3,202.5 L887.9,199.8 L905.2,197.2 L923.2,194.7 L941.8,192.5 L960.9,190.4 L980.6,188.6 L1000.7,187.0 L1021.3,185.5 L1042.2,184.3 L1063.4,183.3 L1084.8,182.5 L1106.5,181.9 L1128.2,181.6 L1150.0,181.5 L1171.8,181.6 L1193.5,181.9 L1215.2,182.5 L1236.6,183.3 L1257.8,184.3 L1278.7,185.5 L1299.3,187.0 L1319.4,188.6 L1339.1,190.4 L1358.2,192.5 L1376.8,194.7 L1394.8,197.2 L1412.1,199.8 L1428.7,202.5 L1444.5,205.5 L1459.5,208.6 L1473.7,211.8 L1487.0,215.2 L1499.3,218.6 L1510.7,222.2 L1521.1,225.9 L1530.5,229.6 L1538.8,233.4 L1546.1,237.2 L1552.3,241.0 L1557.4,244.7 L1561.4,248.2 L1564.2,251.2 L1565.9,253.4 L1566.5,254.2 L1566.5,266.1 L1565.9,266.7 L1564.2,268.4 L1561.4,270.8 L1557.4,273.8 L1552.3,277.2 L1546.1,280.7 L1538.8,284.3 L1530.5,287.9 L1521.1,291.6 L1510.7,295.2 L1499.3,298.7 L1487.0,302.2 L1473.7,305.5 L1459.5,308.8 L1444.5,311.9 L1428.7,314.8 L1412.1,317.6 L1394.8,320.2 L1376.8,322.7 L1358.2,324.9 L1339.1,327.0 L1319.4,328.8 L1299.3,330.5 L1278.7,331.9 L1257.8,333.2 L1236.6,334.2 L1215.2,335.0 L1193.5,335.5 L1171.8,335.9 L1150.0,336.0 L1128.2,335.9 L1106.5,335.5 L1084.8,335.0 L1063.4,334.2 L1042.2,333.2 L1021.3,331.9 L1000.7,330.5 L980.6,328.8 L960.9,327.0 L941.8,324.9 L923.2,322.7 L905.2,320.2 L887.9,317.6 L871.3,314.8 L855.5,311.9 L840.5,308.8 L826.3,305.5 L813.0,302.2 L800.7,298.7 L789.3,295.2 L778.9,291.6 L769.5,287.9 L761.2,284.3 L753.9,280.7 L747.7,277.2 L742.6,273.8 L738.6,270.8 L735.8,268.4 L734.1,266.7 L733.5,266.1 Z" fill="url(#gOpen)"/>
<path d="M726.3,230.0 L729.2,225.5 L733.3,221.1 L738.5,216.7 L744.8,212.4 L752.3,208.2 L760.8,204.0 L770.4,200.0 L781.1,196.0 L792.7,192.2 L805.4,188.5 L818.9,184.9 L833.4,181.5 L848.8,178.2 L865.0,175.1 L881.9,172.2 L899.6,169.4 L918.0,166.9 L937.0,164.5 L956.6,162.4 L976.7,160.4 L997.3,158.7 L1018.4,157.2 L1039.7,155.9 L1061.4,154.9 L1083.4,154.1 L1105.5,153.5 L1127.7,153.1 L1150.0,153.0 L1172.3,153.1 L1194.5,153.5 L1216.6,154.1 L1238.6,154.9 L1260.3,155.9 L1281.6,157.2 L1302.7,158.7 L1323.3,160.4 L1343.4,162.4 L1363.0,164.5 L1382.0,166.9 L1400.4,169.4 L1418.1,172.2 L1435.0,175.1 L1451.2,178.2 L1466.6,181.5 L1481.1,184.9 L1494.6,188.5 L1507.3,192.2 L1518.9,196.0 L1529.6,200.0 L1539.2,204.0 L1547.7,208.2 L1555.2,212.4 L1561.5,216.7 L1566.7,221.1 L1570.8,225.5 L1573.7,230.0" fill="none" stroke="#161616" stroke-width="3"/>
<path d="M733.5,254.2 L734.1,253.4 L735.8,251.2 L738.6,248.2 L742.6,244.7 L747.7,241.0 L753.9,237.2 L761.2,233.4 L769.5,229.6 L778.9,225.9 L789.3,222.2 L800.7,218.6 L813.0,215.2 L826.3,211.8 L840.5,208.6 L855.5,205.5 L871.3,202.5 L887.9,199.8 L905.2,197.2 L923.2,194.7 L941.8,192.5 L960.9,190.4 L980.6,188.6 L1000.7,187.0 L1021.3,185.5 L1042.2,184.3 L1063.4,183.3 L1084.8,182.5 L1106.5,181.9 L1128.2,181.6 L1150.0,181.5 L1171.8,181.6 L1193.5,181.9 L1215.2,182.5 L1236.6,183.3 L1257.8,184.3 L1278.7,185.5 L1299.3,187.0 L1319.4,188.6 L1339.1,190.4 L1358.2,192.5 L1376.8,194.7 L1394.8,197.2 L1412.1,199.8 L1428.7,202.5 L1444.5,205.5 L1459.5,208.6 L1473.7,211.8 L1487.0,215.2 L1499.3,218.6 L1510.7,222.2 L1521.1,225.9 L1530.5,229.6 L1538.8,233.4 L1546.1,237.2 L1552.3,241.0 L1557.4,244.7 L1561.4,248.2 L1564.2,251.2 L1565.9,253.4 L1566.5,254.2" fill="none" stroke="#151515" stroke-width="3.5"/>
<path d="M889,166 L905.5,163.2 L906,189 L891,192.5 Z" fill="#fff"/><path d="M888,171.5 L906,168.3" stroke="#1a1a1a" stroke-width="1.6" fill="none"/><path d="M890,194.3 L906,190.6" stroke="#151515" stroke-width="3.5" fill="none"/><rect x="905" y="161.5" width="8" height="31" rx="2" fill="#151515" transform="rotate(-4 909 177)"/>
<path d="M1411,166 L1394.5,163.2 L1394,189 L1409,192.5 Z" fill="#fff"/><path d="M1412,171.5 L1394,168.3" stroke="#1a1a1a" stroke-width="1.6" fill="none"/><path d="M1410,194.3 L1394,190.6" stroke="#151515" stroke-width="3.5" fill="none"/><rect x="1387" y="161.5" width="8" height="31" rx="2" fill="#151515" transform="rotate(4 1391 177)"/>
<rect x="1068" y="180.5" width="169.5" height="98" fill="#000"/>
<text x="1152.5" y="254.5" text-anchor="middle" font-weight="700" font-style="italic" fill="#fff" stroke="#fff" stroke-width="3.2" stroke-linejoin="round" textLength="104" lengthAdjust="spacingAndGlyphs"><tspan font-size="84">a</tspan><tspan font-size="63">G</tspan><tspan font-size="84">a</tspan></text>
<path d="M1140.6,278 L1162,278 L1162,975 Q1162,986 1173,986 L1279,986 L1279,998 L1152,999.5 Q1140.6,999 1140.6,986 Z" fill="#000"/>
<path d="M1151.5,554 L1151.5,980 Q1152,993 1164,993.5 L1245,995.5" fill="none" stroke="#e6e83c" stroke-width="3.8" stroke-dasharray="234 7 96 9 400"/>
<path d="M722.5,262.0 C720.7,268.3 716.0,285.4 711.5,300.0 C707.0,314.6 700.8,333.1 695.5,349.7 C690.2,366.3 684.5,382.8 679.5,399.4 C674.5,415.9 669.0,435.6 665.5,449.0 C662.0,462.4 661.0,466.6 658.2,480.0 C655.4,493.4 651.4,513.1 648.8,529.7 C646.2,546.3 644.2,562.9 642.5,579.4 C640.8,595.9 639.4,615.6 638.5,629.0 C637.6,642.4 637.8,646.5 637.2,660.0 C636.6,673.5 635.2,693.1 635.1,709.7 C635.0,726.3 635.6,742.9 636.6,759.4 C637.6,775.9 639.5,795.6 641.0,809.0 C642.5,822.4 643.0,826.5 645.5,840.0 C648.0,853.5 653.9,876.0 656.3,889.7 C658.7,903.4 659.0,914.6 660.0,922.0 C661.0,929.4 661.7,932.0 662.0,934.0" fill="none" stroke="#e0277a" stroke-width="19.5" stroke-linecap="butt"/>
<path d="M724.8,262.0 C723.0,268.3 718.3,285.4 713.8,300.0 C709.3,314.6 703.2,333.1 697.8,349.7 C692.5,366.3 686.8,382.8 681.8,399.4 C676.8,415.9 671.4,435.6 667.8,449.0 C664.3,462.4 663.3,466.6 660.5,480.0 C657.8,493.4 653.8,513.1 651.1,529.7 C648.5,546.3 646.6,562.9 644.8,579.4 C643.1,595.9 641.7,615.6 640.8,629.0 C640.0,642.4 640.1,646.5 639.5,660.0 C639.0,673.5 637.5,693.1 637.4,709.7 C637.3,726.3 638.0,742.9 638.9,759.4 C639.9,775.9 641.9,795.6 643.3,809.0 C644.8,822.4 645.3,826.5 647.8,840.0 C650.4,853.5 656.2,876.0 658.6,889.7 C661.1,903.4 661.4,914.6 662.3,922.0 C663.3,929.4 664.0,932.0 664.3,934.0" fill="none" stroke="#c2145f" stroke-width="6.6" stroke-opacity="0.45"/>
<path d="M714.7,262.0 C712.9,268.3 708.2,285.4 703.7,300.0 C699.2,314.6 693.0,333.1 687.7,349.7 C682.4,366.3 676.7,382.8 671.7,399.4 C666.7,415.9 661.2,435.6 657.7,449.0 C654.2,462.4 653.2,466.6 650.4,480.0 C647.6,493.4 643.6,513.1 641.0,529.7 C638.4,546.3 636.4,562.9 634.7,579.4 C633.0,595.9 631.6,615.6 630.7,629.0 C629.8,642.4 630.0,646.5 629.4,660.0 C628.8,673.5 627.4,693.1 627.3,709.7 C627.2,726.3 627.8,742.9 628.8,759.4 C629.8,775.9 631.7,795.6 633.2,809.0 C634.7,822.4 635.2,826.5 637.7,840.0 C640.2,853.5 646.1,876.0 648.5,889.7 C650.9,903.4 651.2,914.6 652.2,922.0 C653.2,929.4 653.9,932.0 654.2,934.0" fill="none" stroke="#f48ab4" stroke-width="3.1" stroke-opacity="0.75"/>
<path d="M1577.5,262.0 C1579.6,268.3 1585.0,285.4 1590.2,300.0 C1595.3,314.6 1602.7,333.1 1608.4,349.7 C1614.1,366.3 1619.5,382.8 1624.5,399.4 C1629.5,415.9 1635.0,435.6 1638.5,449.0 C1642.0,462.4 1643.0,466.6 1645.8,480.0 C1648.6,493.4 1652.6,513.1 1655.2,529.7 C1657.8,546.3 1659.8,562.9 1661.5,579.4 C1663.2,595.9 1664.6,615.6 1665.5,629.0 C1666.4,642.4 1666.3,646.5 1666.8,660.0 C1667.3,673.5 1668.8,693.1 1668.6,709.7 C1668.5,726.3 1667.2,742.9 1665.8,759.4 C1664.4,775.9 1661.9,795.6 1660.1,809.0 C1658.3,822.4 1657.5,826.5 1654.8,840.0 C1652.0,853.5 1646.2,876.0 1643.7,889.7 C1641.2,903.4 1641.0,914.6 1640.0,922.0 C1639.0,929.4 1638.3,932.0 1638.0,934.0" fill="none" stroke="#e0277a" stroke-width="19.5" stroke-linecap="butt"/>
<path d="M1579.8,262.0 C1582.0,268.3 1587.4,285.4 1592.5,300.0 C1597.7,314.6 1605.0,333.1 1610.7,349.7 C1616.5,366.3 1621.8,382.8 1626.8,399.4 C1631.9,415.9 1637.3,435.6 1640.8,449.0 C1644.4,462.4 1645.4,466.6 1648.1,480.0 C1650.9,493.4 1654.9,513.1 1657.5,529.7 C1660.2,546.3 1662.1,562.9 1663.8,579.4 C1665.6,595.9 1667.0,615.6 1667.8,629.0 C1668.7,642.4 1668.6,646.5 1669.1,660.0 C1669.7,673.5 1671.1,693.1 1671.0,709.7 C1670.8,726.3 1669.6,742.9 1668.2,759.4 C1666.7,775.9 1664.3,795.6 1662.4,809.0 C1660.6,822.4 1659.8,826.5 1657.1,840.0 C1654.4,853.5 1648.5,876.0 1646.0,889.7 C1643.6,903.4 1643.3,914.6 1642.3,922.0 C1641.4,929.4 1640.7,932.0 1640.3,934.0" fill="none" stroke="#c2145f" stroke-width="6.6" stroke-opacity="0.45"/>
<path d="M1569.7,262.0 C1571.8,268.3 1577.2,285.4 1582.4,300.0 C1587.5,314.6 1594.9,333.1 1600.6,349.7 C1606.3,366.3 1611.7,382.8 1616.7,399.4 C1621.7,415.9 1627.2,435.6 1630.7,449.0 C1634.2,462.4 1635.2,466.6 1638.0,480.0 C1640.8,493.4 1644.8,513.1 1647.4,529.7 C1650.0,546.3 1652.0,562.9 1653.7,579.4 C1655.4,595.9 1656.8,615.6 1657.7,629.0 C1658.6,642.4 1658.5,646.5 1659.0,660.0 C1659.5,673.5 1661.0,693.1 1660.8,709.7 C1660.7,726.3 1659.4,742.9 1658.0,759.4 C1656.6,775.9 1654.1,795.6 1652.3,809.0 C1650.5,822.4 1649.7,826.5 1647.0,840.0 C1644.2,853.5 1638.4,876.0 1635.9,889.7 C1633.4,903.4 1633.2,914.6 1632.2,922.0 C1631.2,929.4 1630.5,932.0 1630.2,934.0" fill="none" stroke="#f48ab4" stroke-width="3.1" stroke-opacity="0.75"/>
<path d="M879.5,170.0 C878.4,175.0 875.5,188.8 873.0,200.0 C870.5,211.2 868.3,222.0 864.6,237.0 C860.9,252.0 855.0,274.5 851.0,290.0 C847.0,305.5 843.0,320.1 840.5,330.0 C838.0,339.9 838.2,338.1 836.0,349.7 C833.8,361.3 830.4,382.8 827.4,399.4 C824.4,415.9 820.4,435.6 818.1,449.0 C815.8,462.4 815.4,466.6 813.8,480.0 C812.2,493.4 810.2,513.1 808.7,529.7 C807.2,546.3 806.0,562.9 805.0,579.4 C804.0,595.9 803.3,615.6 802.8,629.0 C802.3,642.4 802.1,646.5 801.8,660.0 C801.5,673.5 801.0,693.1 800.9,709.7 C800.8,726.3 801.0,742.9 801.2,759.4 C801.4,775.9 801.8,795.6 802.2,809.0 C802.6,822.4 802.7,826.5 803.4,840.0 C804.1,853.5 805.2,873.1 806.6,889.7 C808.0,906.3 809.7,922.9 811.6,939.4 C813.5,955.9 816.0,974.6 818.1,989.0 C820.2,1003.4 823.2,1018.3 824.5,1026.0 C825.8,1033.7 825.8,1033.5 826.0,1035.0" fill="none" stroke="#e0277a" stroke-width="28.5" stroke-linecap="butt"/>
<path d="M882.9,170.0 C881.8,175.0 878.9,188.8 876.4,200.0 C873.9,211.2 871.7,222.0 868.0,237.0 C864.4,252.0 858.4,274.5 854.4,290.0 C850.4,305.5 846.4,320.1 843.9,330.0 C841.4,339.9 841.6,338.1 839.4,349.7 C837.2,361.3 833.8,382.8 830.8,399.4 C827.8,415.9 823.8,435.6 821.5,449.0 C819.3,462.4 818.8,466.6 817.2,480.0 C815.7,493.4 813.6,513.1 812.1,529.7 C810.7,546.3 809.4,562.9 808.4,579.4 C807.4,595.9 806.8,615.6 806.2,629.0 C805.7,642.4 805.5,646.5 805.2,660.0 C804.9,673.5 804.4,693.1 804.3,709.7 C804.2,726.3 804.4,742.9 804.6,759.4 C804.8,775.9 805.3,795.6 805.6,809.0 C806.0,822.4 806.1,826.5 806.8,840.0 C807.6,853.5 808.7,873.1 810.0,889.7 C811.4,906.3 813.1,922.9 815.0,939.4 C816.9,955.9 819.4,974.6 821.5,989.0 C823.7,1003.4 826.6,1018.3 827.9,1026.0 C829.2,1033.7 829.2,1033.5 829.4,1035.0" fill="none" stroke="#c2145f" stroke-width="9.7" stroke-opacity="0.45"/>
<path d="M868.1,170.0 C867.0,175.0 864.1,188.8 861.6,200.0 C859.1,211.2 856.9,222.0 853.2,237.0 C849.5,252.0 843.6,274.5 839.6,290.0 C835.6,305.5 831.6,320.1 829.1,330.0 C826.6,339.9 826.8,338.1 824.6,349.7 C822.4,361.3 819.0,382.8 816.0,399.4 C813.0,415.9 809.0,435.6 806.7,449.0 C804.4,462.4 804.0,466.6 802.4,480.0 C800.8,493.4 798.8,513.1 797.3,529.7 C795.8,546.3 794.6,562.9 793.6,579.4 C792.6,595.9 791.9,615.6 791.4,629.0 C790.9,642.4 790.7,646.5 790.4,660.0 C790.1,673.5 789.6,693.1 789.5,709.7 C789.4,726.3 789.6,742.9 789.8,759.4 C790.0,775.9 790.4,795.6 790.8,809.0 C791.2,822.4 791.3,826.5 792.0,840.0 C792.7,853.5 793.8,873.1 795.2,889.7 C796.6,906.3 798.3,922.9 800.2,939.4 C802.1,955.9 804.6,974.6 806.7,989.0 C808.9,1003.4 811.8,1018.3 813.1,1026.0 C814.4,1033.7 814.4,1033.5 814.6,1035.0" fill="none" stroke="#f48ab4" stroke-width="4.6" stroke-opacity="0.75"/>
<path d="M1420.5,170.0 C1421.8,175.0 1425.4,188.8 1428.3,200.0 C1431.3,211.2 1434.3,222.0 1438.4,237.0 C1442.5,252.0 1448.8,274.5 1453.0,290.0 C1457.2,305.5 1461.0,320.1 1463.5,330.0 C1466.0,339.9 1465.8,338.1 1468.0,349.7 C1470.2,361.3 1473.6,382.8 1476.6,399.4 C1479.6,415.9 1483.6,435.6 1485.9,449.0 C1488.2,462.4 1488.6,466.6 1490.2,480.0 C1491.8,493.4 1493.8,513.1 1495.3,529.7 C1496.8,546.3 1498.0,562.9 1499.0,579.4 C1500.0,595.9 1500.7,615.6 1501.2,629.0 C1501.7,642.4 1501.9,646.5 1502.2,660.0 C1502.5,673.5 1503.0,693.1 1502.8,709.7 C1502.7,726.3 1501.9,742.9 1501.2,759.4 C1500.6,775.9 1500.0,792.2 1498.9,809.0 C1497.8,825.8 1496.1,840.7 1494.5,860.0 C1492.9,879.3 1491.1,903.3 1489.5,925.0 C1487.9,946.7 1486.2,971.7 1485.0,990.0 C1483.8,1008.3 1482.5,1027.5 1482.0,1035.0" fill="none" stroke="#e0277a" stroke-width="28.5" stroke-linecap="butt"/>
<path d="M1423.9,170.0 C1425.2,175.0 1428.8,188.8 1431.8,200.0 C1434.7,211.2 1437.7,222.0 1441.8,237.0 C1445.9,252.0 1452.2,274.5 1456.4,290.0 C1460.6,305.5 1464.4,320.1 1466.9,330.0 C1469.4,339.9 1469.2,338.1 1471.4,349.7 C1473.6,361.3 1477.0,382.8 1480.0,399.4 C1483.0,415.9 1487.1,435.6 1489.3,449.0 C1491.6,462.4 1492.1,466.6 1493.6,480.0 C1495.2,493.4 1497.3,513.1 1498.7,529.7 C1500.2,546.3 1501.4,562.9 1502.4,579.4 C1503.4,595.9 1504.1,615.6 1504.6,629.0 C1505.2,642.4 1505.3,646.5 1505.6,660.0 C1505.9,673.5 1506.4,693.1 1506.3,709.7 C1506.1,726.3 1505.3,742.9 1504.6,759.4 C1504.0,775.9 1503.4,792.2 1502.3,809.0 C1501.2,825.8 1499.5,840.7 1497.9,860.0 C1496.4,879.3 1494.5,903.3 1492.9,925.0 C1491.3,946.7 1489.7,971.7 1488.4,990.0 C1487.2,1008.3 1485.9,1027.5 1485.4,1035.0" fill="none" stroke="#c2145f" stroke-width="9.7" stroke-opacity="0.45"/>
<path d="M1409.1,170.0 C1410.4,175.0 1414.0,188.8 1416.9,200.0 C1419.9,211.2 1422.9,222.0 1427.0,237.0 C1431.1,252.0 1437.4,274.5 1441.6,290.0 C1445.8,305.5 1449.6,320.1 1452.1,330.0 C1454.6,339.9 1454.4,338.1 1456.6,349.7 C1458.8,361.3 1462.2,382.8 1465.2,399.4 C1468.2,415.9 1472.2,435.6 1474.5,449.0 C1476.8,462.4 1477.2,466.6 1478.8,480.0 C1480.4,493.4 1482.4,513.1 1483.9,529.7 C1485.4,546.3 1486.6,562.9 1487.6,579.4 C1488.6,595.9 1489.3,615.6 1489.8,629.0 C1490.3,642.4 1490.5,646.5 1490.8,660.0 C1491.1,673.5 1491.6,693.1 1491.4,709.7 C1491.3,726.3 1490.5,742.9 1489.8,759.4 C1489.2,775.9 1488.6,792.2 1487.5,809.0 C1486.4,825.8 1484.7,840.7 1483.1,860.0 C1481.5,879.3 1479.7,903.3 1478.1,925.0 C1476.5,946.7 1474.8,971.7 1473.6,990.0 C1472.3,1008.3 1471.1,1027.5 1470.6,1035.0" fill="none" stroke="#f48ab4" stroke-width="4.6" stroke-opacity="0.75"/>
</g>
</defs>
<rect width="2000" height="2000" fill="#fff"/>
<use href="#tramp"/>
<g id="dims">
<line x1="638" y1="94.3" x2="1669" y2="94.3" stroke="#000" stroke-width="3.2" stroke-dasharray="3 3"/><polygon points="630,94.3 637.5,89.3 637.5,99.3" fill="#000" stroke="#000" stroke-width="2" stroke-linejoin="round"/><polygon points="1677,94.3 1669.5,89.3 1669.5,99.3" fill="#000" stroke="#000" stroke-width="2" stroke-linejoin="round"/>
<rect x="1062" y="59" width="174" height="71" fill="#1b4a8f"/><text x="1149.0" y="106.0" text-anchor="middle" font-size="42" font-weight="700" fill="#fff" textLength="140" lengthAdjust="spacingAndGlyphs">201 cm</text>
<line x1="544.7" y1="198" x2="544.7" y2="1341" stroke="#000" stroke-width="3.2" stroke-dasharray="3 3"/><polygon points="544.7,190 539.7,197.5 549.7,197.5" fill="#000" stroke="#000" stroke-width="2" stroke-linejoin="round"/><polygon points="544.7,1349 539.7,1341.5 549.7,1341.5" fill="#000" stroke="#000" stroke-width="2" stroke-linejoin="round"/>
<rect x="509" y="623" width="71" height="174" fill="#1b4a8f"/><text transform="translate(544.5,710.0) rotate(-90)" x="0" y="15.0" text-anchor="middle" font-size="42" font-weight="700" fill="#fff" textLength="140" lengthAdjust="spacingAndGlyphs">235 cm</text>
<line x1="1749.6" y1="201" x2="1749.6" y2="938" stroke="#000" stroke-width="3.2" stroke-dasharray="3 3"/><polygon points="1749.6,193 1744.6,200.5 1754.6,200.5" fill="#000" stroke="#000" stroke-width="2" stroke-linejoin="round"/><polygon points="1749.6,946 1744.6,938.5 1754.6,938.5" fill="#000" stroke="#000" stroke-width="2" stroke-linejoin="round"/>
<rect x="1714" y="507" width="71" height="174" fill="#1b4a8f"/><text transform="translate(1749.5,594.0) rotate(90)" x="0" y="15.0" text-anchor="middle" font-size="42" font-weight="700" fill="#fff" textLength="138" lengthAdjust="spacingAndGlyphs">180 cm</text>
<line x1="1673.2" y1="983" x2="1673.2" y2="1357" stroke="#000" stroke-width="3.2" stroke-dasharray="3 3"/><polygon points="1673.2,975 1668.2,982.5 1678.2,982.5" fill="#000" stroke="#000" stroke-width="2" stroke-linejoin="round"/><polygon points="1673.2,1365 1668.2,1357.5 1678.2,1357.5" fill="#000" stroke="#000" stroke-width="2" stroke-linejoin="round"/>
<rect x="1637.5" y="1104" width="70.5" height="173.5" fill="#1b4a8f"/><text transform="translate(1672.75,1190.75) rotate(90)" x="0" y="15.0" text-anchor="middle" font-size="42" font-weight="700" fill="#fff" textLength="116" lengthAdjust="spacingAndGlyphs">55 cm</text>
<line x1="1262.8" y1="1058" x2="1262.8" y2="1371" stroke="#000" stroke-width="3.2" stroke-dasharray="3 3"/><polygon points="1262.8,1050 1257.8,1057.5 1267.8,1057.5" fill="#000" stroke="#000" stroke-width="2" stroke-linejoin="round"/><polygon points="1262.8,1379 1257.8,1371.5 1267.8,1371.5" fill="#000" stroke="#000" stroke-width="2" stroke-linejoin="round"/>
<rect x="1227.5" y="1119.5" width="70.5" height="173.5" fill="#1b4a8f"/><text transform="translate(1262.75,1206.25) rotate(90)" x="0" y="15.0" text-anchor="middle" font-size="42" font-weight="700" fill="#fff" textLength="116" lengthAdjust="spacingAndGlyphs">66 cm</text>
<line x1="614.5" y1="1465" x2="1643" y2="1465" stroke="#000" stroke-width="3.2" stroke-dasharray="3 3"/><polygon points="606.5,1465 614.0,1460 614.0,1470" fill="#000" stroke="#000" stroke-width="2" stroke-linejoin="round"/><polygon points="1651,1465 1643.5,1460 1643.5,1470" fill="#000" stroke="#000" stroke-width="2" stroke-linejoin="round"/>
<rect x="1065" y="1429" width="174" height="70" fill="#1b4a8f"/><text x="1152.0" y="1479.0" text-anchor="middle" font-size="42" font-weight="700" fill="#fff" textLength="140" lengthAdjust="spacingAndGlyphs">244 cm</text>
</g>
<g id="sizes">
<circle cx="194" cy="1602.4" r="72.6" fill="#1b4a8f"/><text x="194" y="1620.6" text-anchor="middle" font-size="50" fill="#fff"><tspan font-weight="700">6</tspan><tspan font-weight="400" font-size="48" textLength="49" lengthAdjust="spacingAndGlyphs" dx="3">FT</tspan></text>
<circle cx="514.5" cy="1602.4" r="72.6" fill="#1b4a8f"/><text x="514.5" y="1620.6" text-anchor="middle" font-size="50" fill="#fff"><tspan font-weight="700">8</tspan><tspan font-weight="400" font-size="48" textLength="49" lengthAdjust="spacingAndGlyphs" dx="3">FT</tspan></text>
<circle cx="835.5" cy="1602.4" r="72.6" fill="#1b4a8f"/><text x="835.5" y="1620.6" text-anchor="middle" font-size="50" fill="#fff"><tspan font-weight="700">10</tspan><tspan font-weight="400" font-size="48" textLength="49" lengthAdjust="spacingAndGlyphs" dx="3">FT</tspan></text>
<circle cx="1155.5" cy="1602.4" r="72.6" fill="#1b4a8f"/><text x="1155.5" y="1620.6" text-anchor="middle" font-size="50" fill="#fff"><tspan font-weight="700">12</tspan><tspan font-weight="400" font-size="48" textLength="49" lengthAdjust="spacingAndGlyphs" dx="3">FT</tspan></text>
<circle cx="1476.5" cy="1602.4" r="72.6" fill="#1b4a8f"/><text x="1476.5" y="1620.6" text-anchor="middle" font-size="50" fill="#fff"><tspan font-weight="700">14</tspan><tspan font-weight="400" font-size="48" textLength="49" lengthAdjust="spacingAndGlyphs" dx="3">FT</tspan></text>
<circle cx="1797" cy="1602.4" r="72.6" fill="#1b4a8f"/><text x="1797" y="1620.6" text-anchor="middle" font-size="50" fill="#fff"><tspan font-weight="700">16</tspan><tspan font-weight="400" font-size="48" textLength="49" lengthAdjust="spacingAndGlyphs" dx="3">FT</tspan></text>
</g>
<g id="thumbs">
<filter id="fGray"><feColorMatrix type="saturate" values="0"/></filter>
<g transform="translate(24.41,1682.52) scale(0.1469,0.1469)" opacity="0.125" filter="url(#fGray)"><use href="#tramp"/></g>
<g transform="translate(356.05,1684.59) scale(0.1378,0.1399)"><use href="#tramp"/></g>
<g transform="translate(634.99,1675.16) scale(0.1746,0.1506)" opacity="0.115" filter="url(#fGray)"><use href="#tramp"/></g>
<g transform="translate(924.17,1688.14) scale(0.2023,0.1429)" opacity="0.12"><use href="#tramp"/></g>
<g transform="translate(1219.03,1688.02) scale(0.2252,0.1502)" opacity="0.125" filter="url(#fGray)"><use href="#tramp"/></g>
<g transform="translate(1530.35,1679.84) scale(0.2319,0.1559)" opacity="0.125" filter="url(#fGray)"><use href="#tramp"/></g>
</g>
<g id="icons" fill="none" stroke="#234c90" stroke-linecap="round" stroke-linejoin="round">
<!-- weight 38kg -->
<g stroke-width="9">
<path d="M128.1,172 L128.1,156.5 A32.2,32.2 0 0 1 192.5,156.5 L192.5,172" stroke-linecap="butt"/>
<path d="M95,175.5 L225.5,175.5 L250.6,322.5 L68.6,322.5 Z"/>
</g>
<text x="161" y="268.7" text-anchor="middle" font-size="37" font-weight="700" fill="#000" stroke="none" textLength="89" lengthAdjust="spacingAndGlyphs">38kg</text>
<!-- scale MAX 120 kg -->
<path stroke-width="4.2" d="M160.6,373.8 C112,373.8 88,376 78,380 C63,386 59.5,398 59.3,414 C59,450 64,497 70,514 C75,529 86,538 102,538 L220,538 C236,538 247,529 252,514 C258,497 262.5,450 262,414 C262,398 258.5,386 244,380 C234,376 210,373.8 160.6,373.8 Z"/>
<path stroke-width="6" d="M96,412 Q160.7,373.6 226,412 L201.5,468 L120.5,468 Z"/>
<g stroke-width="4">
<path d="M117.3,411.5 L121.5,419.2"/><path d="M138.3,405.2 L141,412.9"/><path d="M160.7,402.4 L160.7,410.8"/><path d="M183,405.2 L180.2,412.9"/><path d="M204,411.5 L199.8,419.2"/>
</g>
<path stroke-width="3" fill="#234c90" d="M141.8,424 L149.5,464 L153,456 L160.5,452.5 Z"/>
<path d="M147.6,445 L151.2,460.5 L156.8,455.2 Z" fill="#fff" stroke="none"/><path stroke-width="4.6" fill="#fff" d="M150,468 A11,11 0 0 1 172,468"/>
<text x="161" y="498.8" text-anchor="middle" font-size="25" font-weight="700" fill="#000" stroke="none" textLength="59.5" lengthAdjust="spacingAndGlyphs">MAX</text>
<text x="161.5" y="524.7" text-anchor="middle" font-size="25" font-weight="700" fill="#000" stroke="none" textLength="82" lengthAdjust="spacingAndGlyphs">120 kg</text>
<!-- spring x 48 -->
<g>
<path stroke-width="7.7" stroke-linecap="butt" d="M76.8,615.6 A19.75,19.75 0 1 0 88.5,648"/>
<path stroke-width="7.7" stroke-linecap="butt" d="M219,629 A19.2,19.2 0 1 1 232.6,661.2"/>
<g stroke-width="24.6"><path d="M92.2,602.5 L107.6,672.5"/><path d="M119.4,602.5 L134.8,672.5"/><path d="M146.7,602.5 L162,672.5"/><path d="M174,602.5 L189.3,672.5"/><path d="M201.2,602.5 L216.6,672.5"/></g>
<g stroke="#fff" stroke-width="12"><path d="M92.2,602.5 L107.6,672.5"/><path d="M119.4,602.5 L134.8,672.5"/><path d="M146.7,602.5 L162,672.5"/><path d="M174,602.5 L189.3,672.5"/><path d="M201.2,602.5 L216.6,672.5"/></g>
<g stroke-width="6" stroke-linecap="butt"><path d="M106.1,604 L120.2,668"/><path d="M133.3,604 L147.4,668"/><path d="M160.6,604 L174.7,668"/><path d="M187.8,604 L201.9,668"/></g>
<g stroke="#fff" stroke-width="3.2" stroke-linecap="butt"><path d="M108.8,616 L116.9,653"/><path d="M136,616 L144.1,653"/><path d="M163.3,616 L171.4,653"/><path d="M190.5,616 L198.6,653"/></g>
</g>
<text x="158.5" y="729.3" text-anchor="middle" font-size="39" font-weight="700" fill="#000" stroke="none" textLength="75.5" lengthAdjust="spacingAndGlyphs">x 48</text>
<!-- child 3+ -->
<rect x="53" y="765" width="210" height="211.4" rx="43" ry="43" stroke-width="6.7"/>
<g stroke-width="5.6">
<path d="M100.6,836.4 C97,803 121,780.5 154.4,779 C170,778.4 178,784.6 182.3,789 C202,794.5 211.7,812.7 209.6,836.4"/>
<path d="M109.7,836.4 C111,827 115,820 119.4,818.3 C129,816 141,815 149.5,808.5 C146,814 143.5,818 143.2,822.4 C155,821.5 168,817 174,805.7"/>
<path d="M183.7,809.9 C189,822 196,830 204.7,836.4"/>
<path d="M110.4,837.8 A12.2,12.2 0 1 0 110.4,861.6"/>
<path d="M199.8,837.8 A12.2,12.2 0 1 1 199.8,861.6"/>
<path d="M110.4,861.6 C117,880 135,891.6 154.4,891.6 C174,891.6 193,880 199.8,861.6"/>
<path d="M142.5,866.5 Q155,881.5 167.6,866.5"/>
<path d="M132.7,890.2 C136,899 144,904.9 153,904.9 C162,904.9 169,899.5 172.5,892.3"/>
<path d="M127.8,886.7 C110,896 99,913 95.7,934.2"/>
<path d="M185,888 L192,888.8"/>
<path d="M119.4,921.7 L117.3,934.2"/>
</g>
<circle cx="134.8" cy="846.5" r="6.3" fill="#234c90" stroke="none"/><circle cx="174.9" cy="846.5" r="6.3" fill="#234c90" stroke="none"/>
<text x="172" y="946.8" font-size="71" font-weight="700" fill="#234c90" stroke="#234c90" stroke-width="1.5" textLength="74" lengthAdjust="spacingAndGlyphs">3+</text>
</g>
</svg>
</body></html>
